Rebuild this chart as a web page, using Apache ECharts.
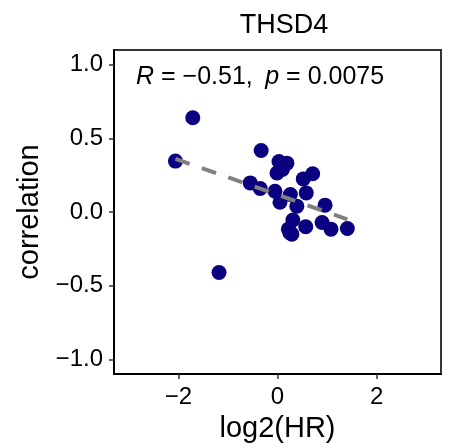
<!DOCTYPE html>
<html>
<head>
<meta charset="utf-8">
<script src="https://cdn.jsdelivr.net/npm/echarts@6/dist/echarts.min.js"></script>
<style>
html,body{margin:0;padding:0;background:#fff;}
#chart{width:449px;height:448px;}
</style>
</head>
<body>
<div id="chart"></div>
<script>
// Data
var logHR = [-2.06, -1.71, -1.18, -0.55, -0.35, -0.33, -0.05, -0.01, 0.03, 0.10, 0.05, 0.19, 0.22, 0.26, 0.29, 0.31, 0.39, 0.52, 0.57, 0.58, 0.71, 0.90, 0.96, 1.08, 1.41, 0.25];
var correlation = [0.346, 0.64, -0.41, 0.198, 0.16, 0.418, 0.141, 0.265, 0.343, 0.29, 0.067, 0.332, -0.116, 0.119, -0.15, -0.054, 0.04, 0.225, -0.10, 0.13, 0.26, -0.071, 0.047, -0.116, -0.112, -0.14];
var xTicks = [-2, 0, 2];
var yTicks = [-1, -0.5, 0, 0.5, 1];
var titleText = 'THSD4';
var xName = 'log2(HR)';
var yName = 'correlation';
var statR = '\u22120.51';
var statP = '0.0075';

// linear regression from data
var n = logHR.length, mx = 0, my = 0;
for (var i = 0; i < n; i++) { mx += logHR[i]; my += correlation[i]; }
mx /= n; my /= n;
var sxx = 0, sxy = 0;
for (var i = 0; i < n; i++) { sxx += (logHR[i]-mx)*(logHR[i]-mx); sxy += (logHR[i]-mx)*(correlation[i]-my); }
var slope = sxy / sxx, icpt = my - slope * mx;
var xmin = Math.min.apply(null, logHR), xmax = Math.max.apply(null, logHR);
var fitLine = [[xmin, icpt + slope * xmin], [xmax, icpt + slope * xmax]];

var points = logHR.map(function (x, i) { return [x, correlation[i]]; });
function fmtMinus(s) { return String(s).replace('-', '\u2212'); }

var FONT = '"Liberation Sans", Arial, Helvetica, sans-serif';
var chart = echarts.init(document.getElementById('chart'));
chart.setOption({
  animation: false,
  backgroundColor: '#fff',
  textStyle: { fontFamily: FONT },
  title: [
    { text: titleText, left: 279, top: 7, textAlign: 'center',
      textStyle: { fontFamily: FONT, fontSize: 27, fontWeight: 'normal', color: '#000' } },
    { text: '{i|R} = ' + statR + ',\u2002{i|p} = ' + statP, left: 131, top: 60,
      textStyle: { fontFamily: FONT, fontSize: 25, fontWeight: 'normal', color: '#000',
        rich: { i: { fontFamily: FONT, fontSize: 25, fontStyle: 'italic', color: '#000' } } } }
  ],
  grid: { left: 114, right: 8, top: 50, bottom: 72, show: true, borderColor: '#333', borderWidth: 2, backgroundColor: '#fff' },
  xAxis: {
    type: 'value', min: -3.3, max: 3.3,
    name: xName, nameLocation: 'middle', nameGap: 34,
    nameTextStyle: { fontFamily: FONT, fontSize: 29, color: '#000' },
    axisLine: { show: true, onZero: false, lineStyle: { color: '#000', width: 2 } },
    axisTick: { show: true, length: 5, customValues: xTicks, lineStyle: { color: '#333', width: 1.5 } },
    axisLabel: { customValues: xTicks, fontSize: 24, color: '#000', margin: 11, fontFamily: FONT,
      formatter: function (v) { return fmtMinus(v); } },
    splitLine: { show: false }
  },
  yAxis: {
    type: 'value', min: -1.1, max: 1.1,
    name: yName, nameLocation: 'middle', nameGap: 68, nameRotate: 90,
    nameTextStyle: { fontFamily: FONT, fontSize: 29, color: '#000' },
    axisLine: { show: true, onZero: false, lineStyle: { color: '#000', width: 2 } },
    axisTick: { show: true, length: 5, customValues: yTicks, lineStyle: { color: '#333', width: 1.5 } },
    axisLabel: { customValues: yTicks, fontSize: 24, color: '#000', margin: 11, fontFamily: FONT,
      formatter: function (v) { return fmtMinus(v.toFixed(1)); } },
    splitLine: { show: false }
  },
  series: [
    { type: 'scatter', data: points, symbolSize: 15, itemStyle: { color: '#0b0080', opacity: 1 }, z: 2 },
    { type: 'line', data: fitLine, symbol: 'none', z: 3,
      lineStyle: { color: '#808080', width: 4, type: [15, 13] } }
  ]
});
</script>
</body>
</html>
